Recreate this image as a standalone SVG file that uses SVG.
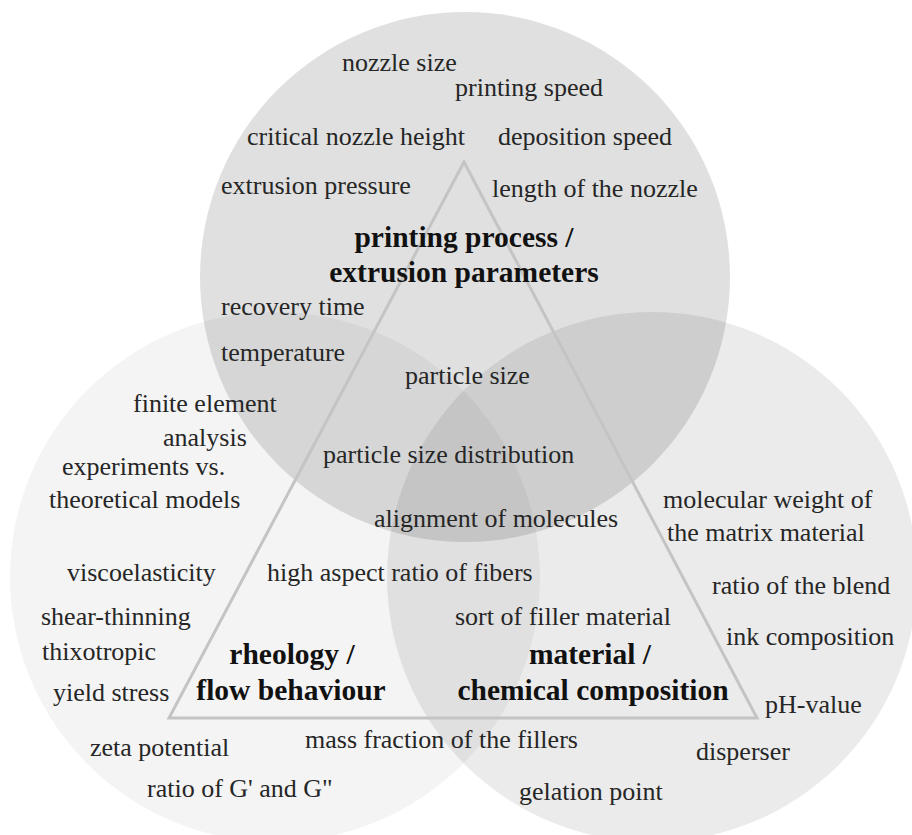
<svg xmlns="http://www.w3.org/2000/svg" width="912" height="835" viewBox="0 0 912 835">
  <style>
    .ring { fill: #000; stroke: none; }
    .t { font-family: "Liberation Serif", Tinos, "DejaVu Serif", serif; font-size: 26px; fill: #262626; }
    .h { font-family: "Liberation Serif", Tinos, "DejaVu Serif", serif; font-size: 29.5px; font-weight: bold; fill: #111; text-anchor: middle; }
  </style>
  <rect width="912" height="835" fill="#fff"/>

  <!-- three overlapping domains -->
  <g id="circle-process"><circle class="ring" cx="465" cy="277" r="265" fill-opacity="0.12"/></g>
  <g id="circle-rheology"><circle class="ring" cx="275" cy="577" r="265" fill-opacity="0.045"/></g>
  <g id="circle-material"><circle class="ring" cx="652" cy="577" r="265" fill-opacity="0.08"/></g>

  <!-- linking triangle -->
  <g id="connectors">
    <polygon points="464,162 169,718 757,718" fill="none" stroke="#c4c4c4" stroke-width="3" stroke-linejoin="miter"/>
  </g>

  <!-- printing process / extrusion parameters -->
  <g id="node-process">
    <text class="h" x="464" y="247">printing process /</text>
    <text class="h" x="464" y="282">extrusion parameters</text>
    <text class="t" x="342" y="71">nozzle size</text>
    <text class="t" x="455" y="96">printing speed</text>
    <text class="t" x="247" y="145">critical nozzle height</text>
    <text class="t" x="498" y="145">deposition speed</text>
    <text class="t" x="221" y="194">extrusion pressure</text>
    <text class="t" x="492" y="197">length of the nozzle</text>
    <text class="t" x="221" y="315">recovery time</text>
    <text class="t" x="221" y="361">temperature</text>
    <text class="t" x="405" y="384">particle size</text>
    <text class="t" x="323" y="463">particle size distribution</text>
    <text class="t" x="374" y="527">alignment of molecules</text>
  </g>

  <!-- rheology / flow behaviour -->
  <g id="node-rheology">
    <text class="h" x="292" y="664">rheology /</text>
    <text class="h" x="291" y="700">flow behaviour</text>
    <text class="t" x="133" y="412">finite element</text>
    <text class="t" x="163" y="446">analysis</text>
    <text class="t" x="62" y="475">experiments vs.</text>
    <text class="t" x="49" y="508">theoretical models</text>
    <text class="t" x="67" y="581">viscoelasticity</text>
    <text class="t" x="267" y="581">high aspect ratio of fibers</text>
    <text class="t" x="41" y="625">shear-thinning</text>
    <text class="t" x="42" y="660">thixotropic</text>
    <text class="t" x="53" y="701">yield stress</text>
    <text class="t" x="305" y="748">mass fraction of the fillers</text>
    <text class="t" x="90" y="756">zeta potential</text>
    <text class="t" x="147" y="797">ratio of G' and G"</text>
  </g>

  <!-- material / chemical composition -->
  <g id="node-material">
    <text class="h" x="590" y="664">material /</text>
    <text class="h" x="593" y="700">chemical composition</text>
    <text class="t" x="663" y="508">molecular weight of</text>
    <text class="t" x="667" y="541">the matrix material</text>
    <text class="t" x="712" y="594">ratio of the blend</text>
    <text class="t" x="455" y="625">sort of filler material</text>
    <text class="t" x="726" y="645">ink composition</text>
    <text class="t" x="765" y="713">pH-value</text>
    <text class="t" x="696" y="760">disperser</text>
    <text class="t" x="519" y="800">gelation point</text>
  </g>
</svg>
